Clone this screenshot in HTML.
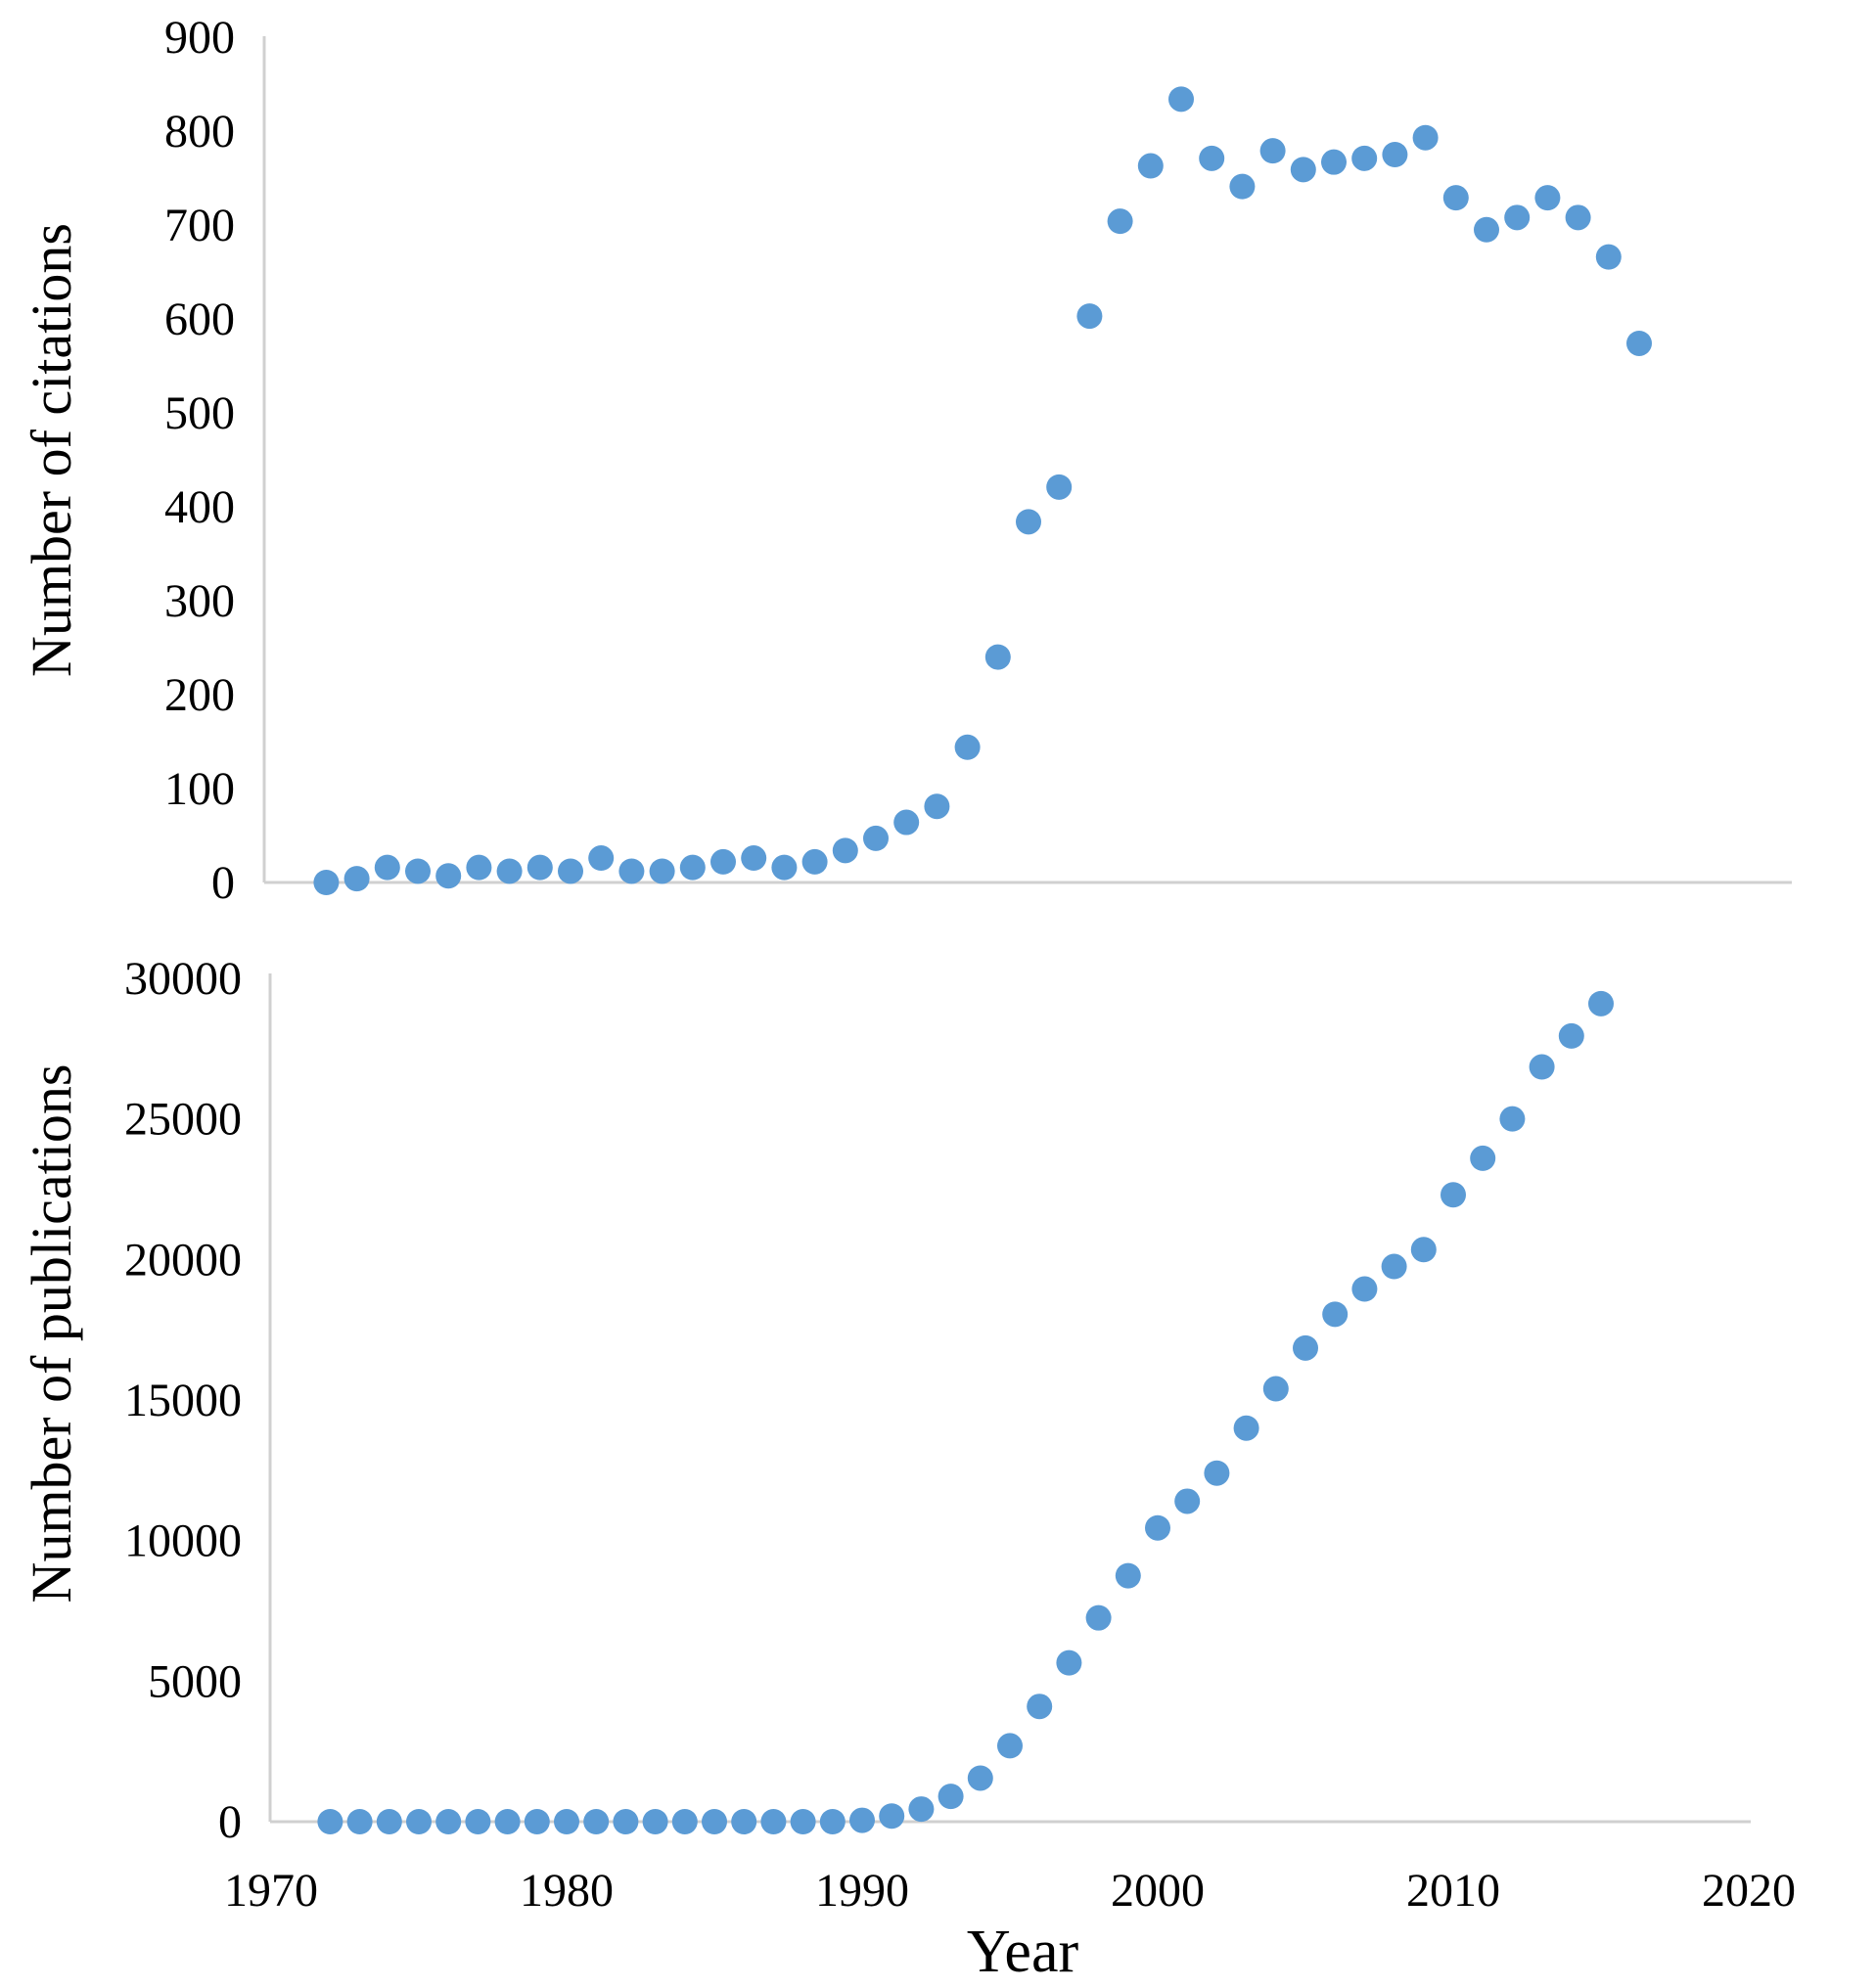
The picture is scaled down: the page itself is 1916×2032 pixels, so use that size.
<!DOCTYPE html>
<html><head><meta charset="utf-8"><style>
html,body{margin:0;padding:0;background:#fff;}
svg{display:block;font-family:"Liberation Serif",serif;}
</style></head><body>
<svg id="chart" width="1916" height="2032" viewBox="0 0 1916 2032" xmlns="http://www.w3.org/2000/svg">
<text transform="translate(72,460) rotate(-90)" text-anchor="middle" font-size="58">Number of citations</text>
<text transform="translate(72,1363) rotate(-90)" text-anchor="middle" font-size="58">Number of publications</text>
<text x="1045" y="2015" text-anchor="middle" font-size="62">Year</text>
<g id="top"></g>
<g id="bottom"></g>
</svg>
<script>
const citYears = [1972,1973,1974,1975,1976,1977,1978,1979,1980,1981,1982,1983,1984,1985,1986,1987,1988,1989,1990,1991,1992,1993,1994,1995,1996,1997,1998,1999,2000,2001,2002,2003,2004,2005,2006,2007,2008,2009,2010,2011,2012,2013,2014,2015];
const citations = [0,4,16,12,7,16,12,16,12,26,12,12,16,22,26,16,22,34,47,64,81,144,240,384,421,603,704,763,834,771,741,779,759,767,771,775,793,729,695,708,729,708,666,574];
const citTicks = [0,100,200,300,400,500,600,700,800,900];
const pubYears = citYears;
const publications = [0,0,0,0,0,0,0,0,0,0,0,0,0,0,0,0,0,0,50,200,450,900,1550,2700,4100,5650,7250,8750,10450,11400,12400,14000,15400,16850,18050,18950,19750,20350,22300,23600,25000,26850,27950,29100];
const pubTicks = [0,5000,10000,15000,20000,25000,30000];
const xTicks = [1970,1980,1990,2000,2010,2020];

const NS='http://www.w3.org/2000/svg';
function mk(tag, attrs, parent){const e=document.createElementNS(NS,tag);for(const k in attrs)e.setAttribute(k,attrs[k]);parent.appendChild(e);return e;}

// top chart
const topG=document.getElementById('top');
const tx=y=>271+(y-1970)*31.2;
const ty=v=>902-v*(902-38)/900;
let ax=mk('line',{x1:270,y1:37,x2:270,y2:902,stroke:'#d0d0d0','stroke-width':3},topG);


ax=mk('line',{x1:270,y1:902,x2:1831,y2:902,stroke:'#d0d0d0','stroke-width':3},topG);


citTicks.forEach(t=>{const e=mk('text',{x:240,y:ty(t)+16,'text-anchor':'end','font-size':48},topG);e.textContent=t;

});
citYears.forEach((y,i)=>{const c=mk('circle',{cx:tx(y),cy:ty(citations[i]),r:13,fill:'#5b9bd5'},topG);

});

// bottom chart
const botG=document.getElementById('bottom');
const bx=y=>277+(y-1970)*30.2;
const by=v=>1862-v*(1862-1000)/30000;
ax=mk('line',{x1:276,y1:995,x2:276,y2:1862,stroke:'#d0d0d0','stroke-width':3},botG);


ax=mk('line',{x1:276,y1:1862,x2:1789,y2:1862,stroke:'#d0d0d0','stroke-width':3},botG);


pubTicks.forEach(t=>{const e=mk('text',{x:247,y:by(t)+16,'text-anchor':'end','font-size':48},botG);e.textContent=t;

});
xTicks.forEach(t=>{const e=mk('text',{x:bx(t),y:1948,'text-anchor':'middle','font-size':48},botG);e.textContent=t;

});
pubYears.forEach((y,i)=>{const c=mk('circle',{cx:bx(y),cy:by(publications[i]),r:13,fill:'#5b9bd5'},botG);

});
</script>
</body></html>
